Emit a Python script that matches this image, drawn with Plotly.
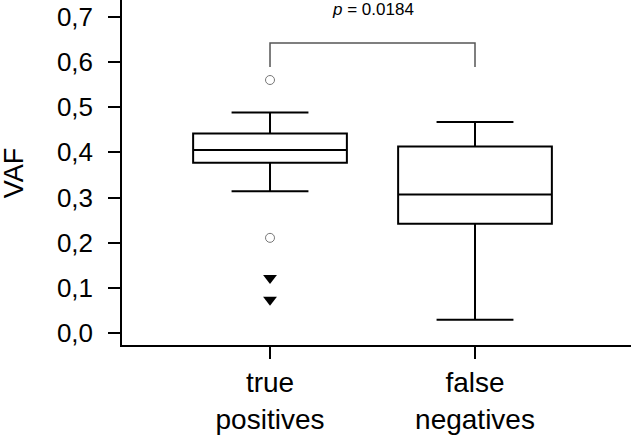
import plotly.graph_objects as go

categories = ["true<br>positives", "false<br>negatives"]
q1 = [0.377, 0.242]
median = [0.405, 0.307]
q3 = [0.442, 0.413]
lowerfence = [0.314, 0.030]
upperfence = [0.488, 0.467]

outlier_circles = [0.560, 0.211]
outlier_triangles = [0.122, 0.074]

bracket_top = 0.642
bracket_bottom = 0.589
p_label = "<i>p</i> = 0.0184"
p_label_y = 0.717
y_title = "VAF"

y_ticks = [0.0, 0.1, 0.2, 0.3, 0.4, 0.5, 0.6, 0.7]

font_family = "Liberation Sans, Arial, sans-serif"

fig = go.Figure()
for i, c in enumerate(categories):
    fig.add_trace(go.Box(
        x=[c], q1=[q1[i]], median=[median[i]], q3=[q3[i]],
        lowerfence=[lowerfence[i]], upperfence=[upperfence[i]],
        fillcolor="white", line=dict(color="black", width=2),
        width=0.75, whiskerwidth=0.5, boxpoints=False, showlegend=False,
        hoverinfo="skip",
    ))

fig.add_trace(go.Scatter(
    x=[categories[0]] * len(outlier_circles), y=outlier_circles, mode="markers",
    marker=dict(symbol="circle-open", size=9, color="#777777", line=dict(width=1)),
    showlegend=False, cliponaxis=False,
))
fig.add_trace(go.Scatter(
    x=[categories[0]] * len(outlier_triangles), y=outlier_triangles, mode="markers",
    marker=dict(symbol="triangle-down", size=12, color="black"),
    showlegend=False,
))

fig.add_shape(
    type="path", xref="x", yref="y",
    path=f"M {0},{bracket_bottom} L {0},{bracket_top} L {1},{bracket_top} L {1},{bracket_bottom}",
    line=dict(color="#555555", width=1.5),
)
fig.add_annotation(
    x=0.5, y=p_label_y, xref="x", yref="y", text=p_label, showarrow=False,
    font=dict(size=17, color="black", family=font_family),
)
fig.add_annotation(
    x=-0.212, y=0.354, xref="paper", yref="y", xanchor="center", yanchor="middle",
    text=y_title, textangle=-90, showarrow=False,
    font=dict(size=27, color="black", family=font_family),
)

fig.update_layout(
    width=631, height=435,
    margin=dict(l=122, r=0, t=0, b=90),
    paper_bgcolor="white", plot_bgcolor="white",
    separators=",.",
    font=dict(family=font_family, color="black"),
    boxmode="overlay",
)
fig.update_xaxes(
    type="category", range=[-0.722, 1.761], automargin=False,
    showline=True, linecolor="black", linewidth=1.5,
    ticks="outside", ticklen=12, tickwidth=1.5, tickcolor="black",
    tickfont=dict(size=28), showgrid=False, zeroline=False,
)
fig.update_yaxes(
    range=[-0.0259, 0.7369], tickvals=y_ticks, tickformat=".1f", automargin=False,
    showline=True, linecolor="black", linewidth=1.5,
    ticks="outside", ticklen=12, tickwidth=1.5, tickcolor="black",
    tickfont=dict(size=26), showgrid=False, zeroline=False,
    ticklabelstandoff=10,
)

fig.write_html(
    "out.html",
    config={"displayModeBar": False},
    post_script="document.body.style.margin='0';document.body.style.overflow='hidden';",
)
